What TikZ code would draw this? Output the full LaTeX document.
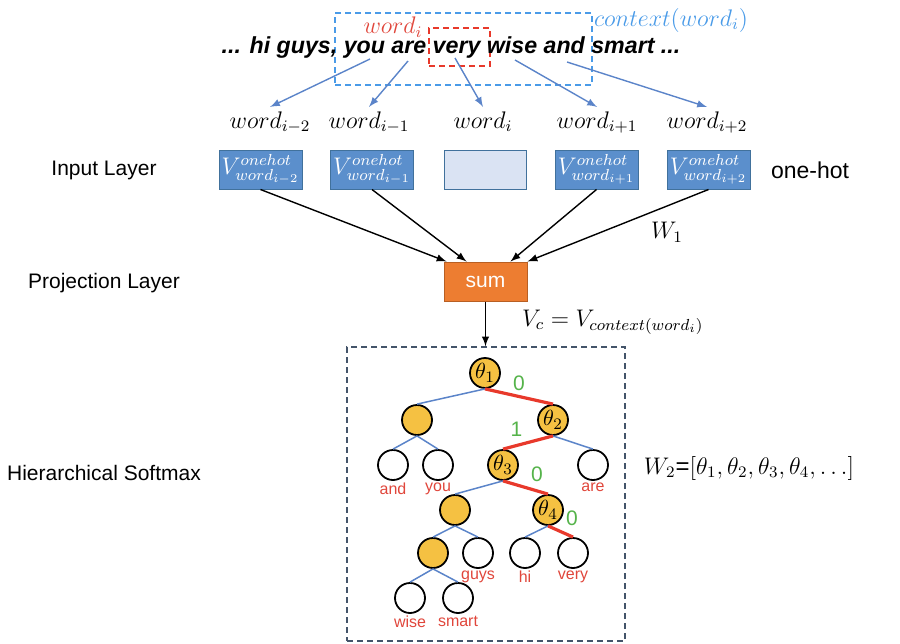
\documentclass[tikz,border=0pt]{standalone}
\usepackage{amsmath}
\usepackage[no-math]{fontspec}
\setmainfont{Liberation Sans}
\usepackage{tikz}
\usetikzlibrary{arrows.meta,calc,positioning}

\definecolor{boxblue}{HTML}{5B8FCC}
\definecolor{boxedge}{HTML}{41719C}
\definecolor{boxlight}{HTML}{DAE3F3}
\definecolor{sumorange}{HTML}{ED7D31}
\definecolor{sumedge}{HTML}{B85F23}
\definecolor{nodegold}{HTML}{F5C142}
\definecolor{edgeblue}{HTML}{5B84C9}
\definecolor{pathred}{HTML}{E8392B}
\definecolor{bitgreen}{HTML}{55B34A}
\definecolor{wordred}{HTML}{E0463B}
\definecolor{ctxblue}{HTML}{4A9BE8}
\definecolor{hsedge}{HTML}{44546A}

\tikzset{
	>=latex,                  % arrow tips
	mathtxt/.style={font=\fontsize{12}{14}\selectfont},
	layer/.style={font=\fontsize{10.5}{12}\selectfont},
	sentence/.style={font=\fontsize{11.6}{14}\selectfont\bfseries\itshape, inner sep=0pt},
	ctxbox/.style={draw=ctxblue, dashed, dash pattern=on 3pt off 2pt, line width=0.8pt,
		minimum width=128.5pt, minimum height=36pt, inner sep=0pt},
	tgtbox/.style={draw=pathred, dashed, dash pattern=on 3pt off 2pt, line width=0.8pt,
		minimum width=30.5pt, minimum height=19pt, inner sep=0pt},
	ctxarrow/.style={->, edgeblue, line width=0.7pt},
	onehot/.style={draw=boxedge, fill=boxblue, text=white, line width=0.5pt,
		minimum width=41.5pt, minimum height=19.5pt, inner sep=0pt,
		font=\fontsize{12}{14}\selectfont},
	emptybox/.style={draw=boxedge, fill=boxlight, line width=0.5pt,
		minimum width=41pt, minimum height=19.5pt, inner sep=0pt},
	sumbox/.style={draw=sumedge, fill=sumorange, text=white, line width=0.5pt,
		minimum width=41.5pt, minimum height=19.5pt, inner sep=0pt,
		font=\fontsize{10.5}{12}\selectfont},
	proj/.style={->, line width=0.7pt},
	hsbox/.style={draw=hsedge, dashed, dash pattern=on 3pt off 2pt, line width=0.7pt,
		minimum width=139pt, minimum height=147pt, inner sep=0pt},
	inner/.style={circle, draw, fill=nodegold, line width=0.9pt, minimum size=15pt,
		inner sep=0pt, font=\fontsize{11}{12}\selectfont},
	leaf/.style={circle, draw, fill=white, line width=0.9pt, minimum size=15pt, inner sep=0pt},
	leafword/.style={text=wordred, font=\fontsize{8}{9}\selectfont, inner sep=1pt},
	hedge/.style={edgeblue, line width=0.75pt},
	hpath/.style={pathred, line width=1.6pt},
	bit/.style={text=bitgreen, font=\fontsize{10.5}{12}\selectfont, inner sep=2pt}
}

\begin{document}
\begin{tikzpicture}[x=0.5pt,y=-0.5pt]
	\useasboundingbox (0,0) rectangle (900,643);
	
	% sentence with context window
	\node[ctxbox] (ctx) at (463.5,49) {};
	\node[tgtbox] (tgt) at (459.5,47) {};
	\node[sentence, anchor=base] (sent) at (451,53) {... hi guys, you are very wise and smart ...};
	\node[mathtxt, text=wordred] (wi) at (393,27) {$word_i$};
	\node[mathtxt, text=ctxblue] (ctxlbl) at (671,20) {$context(word_i)$};
	
	% context words
	\foreach \k/\x/\s in {1/270/{i-2},2/369/{i-1},3/483/i,4/597/{i+1},5/707/{i+2}}
		\node[mathtxt, anchor=base, inner sep=2pt] (w\k) at (\x,128) {$word_{\s}$};
	
	\foreach \k/\x/\yy in {1/370/59,2/408/61,3/455/58,4/515/60,5/567/62}{
		\coordinate (s\k) at (\x,\yy);
		\draw[ctxarrow] (s\k) -- (w\k.north);
	}
	
	% input layer
	\foreach \k/\x/\s in {1/260.5/{i-2},2/372/{i-1},4/596.5/{i+1},5/708.5/{i+2}}
		\node[onehot] (v\k) at (\x,169.5) {$V^{onehot}_{word_{\s}}$};
	\node[emptybox] (v3) at (485,169.5) {};
	
	\node[layer] (inl) at (104,170) {Input Layer};
	\node[layer] (prl) at (104,283) {Projection Layer};
	\node[layer] (hsl) at (104,473) {Hierarchical Softmax};
	\node[font=\fontsize{11.5}{13}\selectfont] (oh) at (810,170) {one-hot};
	
	% projection layer
	\node[sumbox] (sum) at (485.5,281.5) {sum};
	\draw[proj] (v1.south) -- ($(sum.north west)+(3,0)$);
	\draw[proj] (v2.south) -- ($(sum.north west)+(23,0)$);
	\draw[proj] (v4.south) -- ($(sum.north east)+(-17,0)$);
	\draw[proj] (v5.south) -- (sum.north east);
	\node[mathtxt] (wone) at (667,232) {$W_1$};
	\node[mathtxt, anchor=west] (vc) at (515,322) {$V_c = V_{context(word_i)}$};
	
	% hierarchical softmax
	\node[hsbox] (hs) at (486,494) {};
	\draw[proj] (sum.south) -- (sum.south |- hs.north);
	\node[mathtxt] (wtwo) at (749,468) {$W_2$=$[\theta_1,\theta_2,\theta_3,\theta_4,\ldots]$};
	
	\node[inner] (t1) at (485,373) {$\theta_1$};
	\node[inner] (n1) at (417,420) {};
	\node[inner] (t2) at (553,420) {$\theta_2$};
	\node[leaf, label={[leafword]below:and}] (and) at (393,465) {};
	\node[leaf, label={[leafword]below:you}] (you) at (438,465) {};
	\node[inner] (t3) at (503,465) {$\theta_3$};
	\node[leaf, label={[leafword]below:are}] (are) at (593,465) {};
	\node[inner] (n2) at (455,510) {};
	\node[inner] (t4) at (548,510) {$\theta_4$};
	\node[inner] (n3) at (433,553) {};
	\node[leaf, label={[leafword]below:guys}] (guys) at (478,553) {};
	\node[leaf, label={[leafword]below:hi}] (hi) at (525,553) {};
	\node[leaf, label={[leafword]below:very}] (very) at (573,553) {};
	\node[leaf, label={[leafword]below:wise}] (wise) at (410,598) {};
	\node[leaf, label={[leafword]below:smart}] (smart) at (458,598) {};
	
	\draw[hedge] (t1.south) -- (n1.north);
	\draw[hedge] (n1.south) -- (and.north);
	\draw[hedge] (n1.south) -- (you.north);
	\draw[hedge] (t2.south) -- (are.north);
	\draw[hedge] (t3.south) -- (n2.north);
	\draw[hedge] (n2.south) -- (n3.north);
	\draw[hedge] (n2.south) -- (guys.north);
	\draw[hedge] (t4.south) -- (hi.north);
	\draw[hedge] (n3.south) -- (wise.north);
	\draw[hedge] (n3.south) -- (smart.north);
	
	% path to the word
	\draw[hpath] (t1.south) -- node[bit, above] {0} (t2.north);
	\draw[hpath] (t2.south) -- node[bit, above left] {1} (t3.north);
	\draw[hpath] (t3.south) -- node[bit, above right] {0} (t4.north);
	\draw[hpath] (t4.south) -- node[bit, above right] {0} (very.north);
	
\end{tikzpicture}
\end{document}
